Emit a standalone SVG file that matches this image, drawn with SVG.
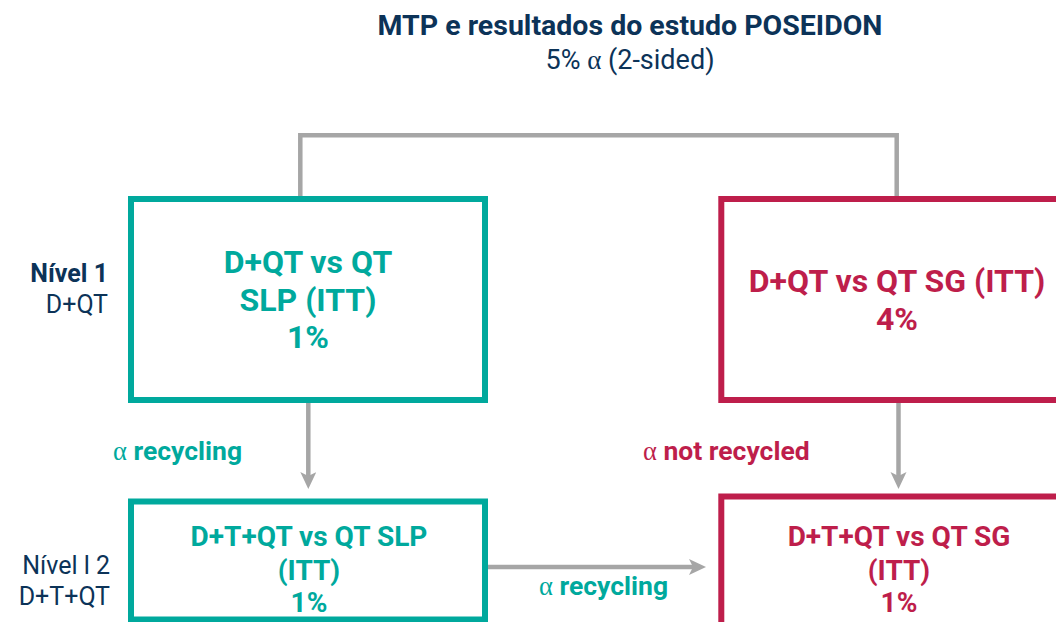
<svg xmlns="http://www.w3.org/2000/svg" width="1056" height="622" viewBox="0 0 1056 622">
  <style>
    text { font-family: Roboto, "Liberation Sans", sans-serif; }
    .a { font-family: "Liberation Serif", "DejaVu Serif", serif; font-weight: normal; }
    .title { font-size: 28.5px; font-weight: bold; fill: #0c3358; text-anchor: middle; }
    .sub { font-size: 27px; fill: #0c3358; text-anchor: middle; }
    .lvlb { font-size: 25px; font-weight: bold; fill: #0c3358; text-anchor: end; }
    .lvl { font-size: 25px; fill: #0c3358; text-anchor: end; }
    .teal { fill: none; stroke: #00a99d; stroke-width: 6; }
    .red { fill: none; stroke: #be1e4b; stroke-width: 6; }
    .tt { fill: #00a99d; font-weight: bold; text-anchor: middle; }
    .rt { fill: #be1e4b; font-weight: bold; text-anchor: middle; }
    .big { font-size: 32px; }
    .mid { font-size: 28px; }
    .lab { font-size: 26.5px; font-weight: bold; }
    .conn { fill: none; stroke: #a6a6a6; stroke-width: 4.5; }
  </style>
  <defs>
    <marker id="ah" markerUnits="userSpaceOnUse" markerWidth="20" markerHeight="20" refX="9" refY="8" orient="auto">
      <path d="M0,0 L17,8 L0,16 L4,8 Z" fill="#a6a6a6"/>
    </marker>
  </defs>
  <rect width="1056" height="622" fill="#ffffff"/>

  <g id="title">
    <text class="title" x="630" y="35">MTP e resultados do estudo POSEIDON</text>
    <text class="sub" x="630" y="69">5% <tspan class="a">α</tspan> (2-sided)</text>
  </g>

  <g id="level1-label">
    <text class="lvlb" x="108" y="282">Nível 1</text>
    <text class="lvl" x="108" y="313">D+QT</text>
  </g>
  <g id="level2-label">
    <text class="lvl" x="110" y="574">Nível l 2</text>
    <text class="lvl" x="110" y="605">D+T+QT</text>
  </g>

  <g id="connectors">
    <path class="conn" d="M300.3,197 V135.3 H896.7 V197"/>
    <line class="conn" x1="308.3" y1="403" x2="308.3" y2="481" marker-end="url(#ah)"/>
    <line class="conn" x1="898.5" y1="403" x2="898.5" y2="481" marker-end="url(#ah)"/>
    <line class="conn" x1="488" y1="567" x2="698" y2="567" marker-end="url(#ah)"/>
  </g>

  <g id="labels">
    <text class="lab" x="113" y="460" fill="#00a99d"><tspan class="a">α</tspan> recycling</text>
    <text class="lab" x="643" y="460" fill="#be1e4b"><tspan class="a">α</tspan> not recycled</text>
    <text class="lab" x="539" y="595" fill="#00a99d"><tspan class="a">α</tspan> recycling</text>
  </g>

  <g id="node-d-qt-slp">
    <rect class="teal" x="131" y="199" width="354" height="201"/>
    <text class="tt big" x="308" y="273">D+QT vs QT</text>
    <text class="tt big" x="308" y="311">SLP (ITT)</text>
    <text class="tt big" x="308" y="348">1%</text>
  </g>

  <g id="node-d-qt-sg">
    <rect class="red" x="721.3" y="199" width="352" height="201"/>
    <text class="rt big" x="897" y="292">D+QT vs QT SG (ITT)</text>
    <text class="rt big" x="897" y="330">4%</text>
  </g>

  <g id="node-dtqt-slp">
    <rect class="teal" x="131" y="501.5" width="354" height="118"/>
    <text class="tt mid" x="309" y="546">D+T+QT vs QT SLP</text>
    <text class="tt mid" x="309" y="580">(ITT)</text>
    <text class="tt mid" x="309" y="612">1%</text>
  </g>

  <g id="node-dtqt-sg">
    <rect class="red" x="721.3" y="496.5" width="354" height="200"/>
    <text class="rt mid" x="899" y="546">D+T+QT vs QT SG</text>
    <text class="rt mid" x="899" y="580">(ITT)</text>
    <text class="rt mid" x="899" y="612">1%</text>
  </g>
</svg>
